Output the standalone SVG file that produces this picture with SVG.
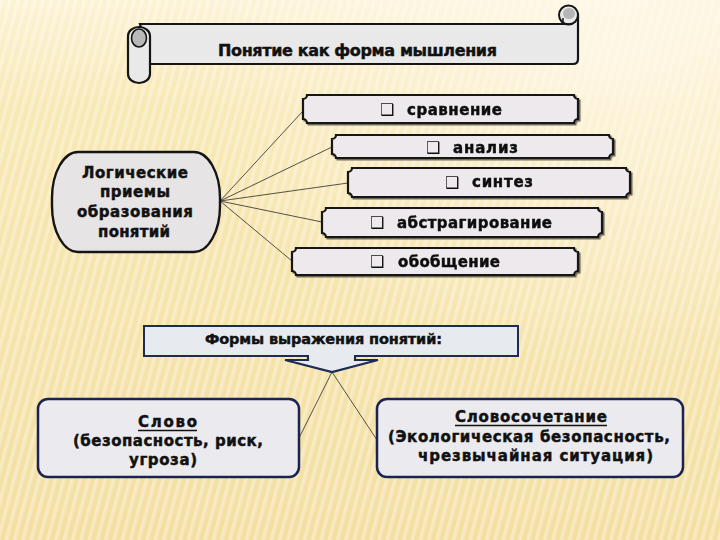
<svg xmlns="http://www.w3.org/2000/svg" width="720" height="540" viewBox="0 0 720 540">
<defs>
<linearGradient id="bg" x1="0" y1="0" x2="0" y2="1">
<stop offset="0" stop-color="#fcf3d6"/>
<stop offset="0.2" stop-color="#f8e8b4"/>
<stop offset="1" stop-color="#f4dfa3"/>
</linearGradient>
<radialGradient id="glow" cx="0.85" cy="0.1" r="0.6">
<stop offset="0" stop-color="#fffaf0" stop-opacity="0.7"/>
<stop offset="1" stop-color="#fffaf0" stop-opacity="0"/>
</radialGradient>
<pattern id="stripes" width="8" height="8" patternUnits="userSpaceOnUse" patternTransform="rotate(15)">
<rect x="0" y="0" width="3.5" height="8" fill="#ffffff" fill-opacity="0.32"/>
</pattern>
<filter id="sh" x="-5%" y="-10%" width="115%" height="130%">
<feDropShadow dx="1.5" dy="1.5" stdDeviation="0.6" flood-color="#000" flood-opacity="0.55"/>
</filter>
<style>
.t{font-family:"DejaVu Sans","Liberation Sans",sans-serif;font-weight:bold;fill:#111;stroke:#111;stroke-width:0.45;}
.plaque{fill:#ede9ec;stroke:#151515;stroke-width:2.2;}
.conn{stroke:#2a2a2a;stroke-width:0.8;fill:none;}
.bot{fill:#ebebef;stroke:#1b2350;stroke-width:2.5;}
.cb{font-family:"DejaVu Sans",sans-serif;fill:#111;}
.ul{stroke:#111;stroke-width:1.6;}
</style>
</defs>
<rect width="720" height="540" fill="url(#bg)"/>
<rect width="720" height="540" fill="url(#stripes)"/>
<rect width="720" height="540" fill="url(#glow)"/>

<g id="title">
<path d="M140,24 L564,24 L564,14 A10,10 0 0 1 578,14 L578,59 Q578,64 573,64 L150,64 Z" fill="#e9e9e9" stroke="#151515" stroke-width="2.2"/>
<circle cx="568.5" cy="15" r="9.5" fill="#e9e9e9" stroke="#151515" stroke-width="2"/>
<ellipse cx="569" cy="13.5" rx="6" ry="5.5" fill="#b5b5b5"/>
<path d="M563,18 L563,24 L572,24" fill="none" stroke="#151515" stroke-width="1.5"/>
<rect x="128" y="27" width="22" height="56" rx="11" ry="9" fill="#e9e9e9" stroke="#151515" stroke-width="2.2"/>
<ellipse cx="139" cy="38" rx="7.5" ry="9" fill="#b8b8b8" stroke="#151515" stroke-width="1.6"/>
<text class="t" x="218" y="56" font-size="16" textLength="279" lengthAdjust="spacing">Понятие как форма мышления</text>
</g>

<g id="connectors">
<line class="conn" x1="220" y1="201" x2="303" y2="111"/>
<line class="conn" x1="220" y1="201" x2="332" y2="147"/>
<line class="conn" x1="220" y1="201" x2="348" y2="183"/>
<line class="conn" x1="220" y1="201" x2="322" y2="222"/>
<line class="conn" x1="220" y1="201" x2="292" y2="261"/>
<line class="conn" x1="332" y1="372" x2="298" y2="440"/>
<line class="conn" x1="332" y1="372" x2="377" y2="440"/>
</g>

<g id="logic">
<rect x="52" y="152" width="168" height="100" rx="26" ry="46" fill="#e6e4e4" stroke="#151515" stroke-width="2.4"/>
<text class="t" x="82" y="178" font-size="15" textLength="106" lengthAdjust="spacing">Логические</text>
<text class="t" x="100" y="197" font-size="15" textLength="70" lengthAdjust="spacing">приемы</text>
<text class="t" x="77" y="217" font-size="15" textLength="116" lengthAdjust="spacing">образования</text>
<text class="t" x="98" y="237" font-size="15" textLength="72" lengthAdjust="spacing">понятий</text>
</g>

<g id="n1" filter="url(#sh)">
<path class="plaque" d="M307,95 L574,95 A4,4 0 0 0 578,99 L578,119 A4,4 0 0 0 574,123 L307,123 A4,4 0 0 0 303,119 L303,99 A4,4 0 0 0 307,95 Z"/>
<text class="cb" x="380" y="115" font-size="16">❑</text>
<text class="t" x="407" y="115" font-size="15" textLength="95" lengthAdjust="spacing">сравнение</text>
</g>
<g id="n2" filter="url(#sh)">
<path class="plaque" d="M336,135 L609,135 A4,4 0 0 0 613,139 L613,154 A4,4 0 0 0 609,158 L336,158 A4,4 0 0 0 332,154 L332,139 A4,4 0 0 0 336,135 Z"/>
<text class="cb" x="426" y="153" font-size="16">❑</text>
<text class="t" x="453" y="153" font-size="15" textLength="65" lengthAdjust="spacing">анализ</text>
</g>
<g id="n3" filter="url(#sh)">
<path class="plaque" d="M352,168 L626,168 A4,4 0 0 0 630,172 L630,193 A4,4 0 0 0 626,197 L352,197 A4,4 0 0 0 348,193 L348,172 A4,4 0 0 0 352,168 Z"/>
<text class="cb" x="445" y="188" font-size="16">❑</text>
<text class="t" x="472" y="187" font-size="15" textLength="61" lengthAdjust="spacing">синтез</text>
</g>
<g id="n4" filter="url(#sh)">
<path class="plaque" d="M326,208 L598,208 A4,4 0 0 0 602,212 L602,233 A4,4 0 0 0 598,237 L326,237 A4,4 0 0 0 322,233 L322,212 A4,4 0 0 0 326,208 Z"/>
<text class="cb" x="370" y="228" font-size="16">❑</text>
<text class="t" x="397" y="228" font-size="15" textLength="155" lengthAdjust="spacing">абстрагирование</text>
</g>
<g id="n5" filter="url(#sh)">
<path class="plaque" d="M296,248 L574,248 A4,4 0 0 0 578,252 L578,271 A4,4 0 0 0 574,275 L296,275 A4,4 0 0 0 292,271 L292,252 A4,4 0 0 0 296,248 Z"/>
<text class="cb" x="370" y="267" font-size="16">❑</text>
<text class="t" x="398" y="267" font-size="15" textLength="102" lengthAdjust="spacing">обобщение</text>
</g>

<g id="forms">
<rect x="144" y="326" width="374" height="30" fill="#e7ebf0" stroke="#1e2b55" stroke-width="2"/>
<path d="M308,356 L308,360 L285,360 L332,372 L378,360 L355,360 L355,356" fill="#e7ebf0" stroke="#1e2b55" stroke-width="2.2" stroke-linejoin="miter"/>
<rect x="309" y="354" width="45" height="4" fill="#e7ebf0"/>
<text class="t" x="205" y="344" font-size="14.5" textLength="237" lengthAdjust="spacing">Формы выражения понятий:</text>
</g>

<g id="word">
<rect class="bot" x="38" y="399" width="261" height="78" rx="10"/>
<text class="t" x="138" y="427" font-size="15" textLength="59" lengthAdjust="spacing">Слово</text>
<line class="ul" x1="138" y1="430.5" x2="197" y2="430.5"/>
<text class="t" x="73" y="446" font-size="15" textLength="190" lengthAdjust="spacing">(безопасность, риск,</text>
<text class="t" x="129" y="465" font-size="15" textLength="68" lengthAdjust="spacing">угроза)</text>
</g>

<g id="phrase">
<rect class="bot" x="377" y="399" width="306" height="78" rx="10"/>
<text class="t" x="455" y="422" font-size="15" textLength="152" lengthAdjust="spacing">Словосочетание</text>
<line class="ul" x1="455" y1="425.5" x2="607" y2="425.5"/>
<text class="t" x="388" y="442" font-size="15" textLength="282" lengthAdjust="spacing">(Экологическая безопасность,</text>
<text class="t" x="418" y="461" font-size="15" textLength="235" lengthAdjust="spacing">чрезвычайная ситуация)</text>
</g>
</svg>
